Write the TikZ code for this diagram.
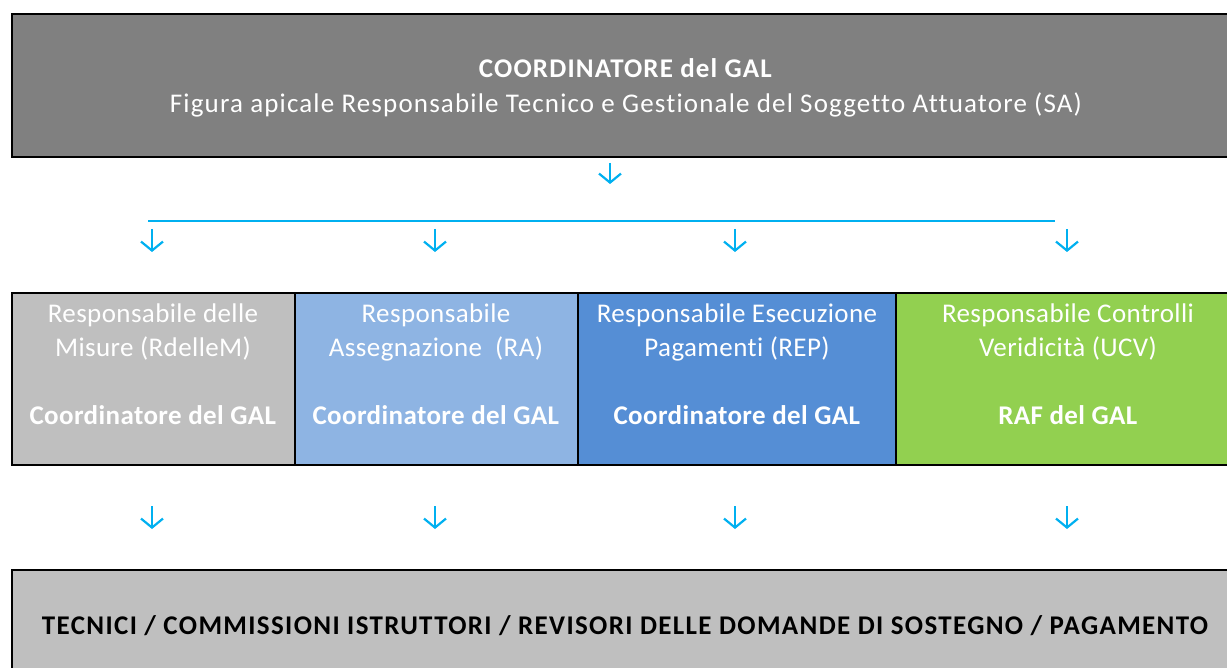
\documentclass[tikz,border=0pt]{standalone}
\usepackage{fontspec}
\setmainfont[Ligatures=NoCommon]{Carlito}
\newfontfamily\widefont[LetterSpace=4.3,Ligatures=NoCommon]{Carlito}
\newfontfamily\botfont[LetterSpace=5,Ligatures=NoCommon]{Carlito}
\newfontfamily\midfont[LetterSpace=1.5,Ligatures=NoCommon]{Carlito}
\usetikzlibrary{arrows.meta}
\definecolor{topgray}{HTML}{808080}
\definecolor{lgray}{HTML}{BFBFBF}
\definecolor{lblue}{HTML}{8EB4E3}
\definecolor{mblue}{HTML}{558ED5}
\definecolor{lgreen}{HTML}{92D050}
\definecolor{arrowblue}{HTML}{00B0F0}
\tikzset{
  box/.style={draw=black, line width=2.5pt, inner sep=0pt, anchor=north west},
  ttext/.style={text=white, align=center, inner sep=0pt, font=\widefont\fontsize{27}{35}\selectfont},
  wtext/.style={text=white, align=center, inner sep=0pt, font=\midfont\fontsize{27}{34}\selectfont},
  darr/.style={draw=arrowblue, line width=2.2pt, -{Straight Barb[length=9pt,width=22pt,line width=2.2pt]}},
}
\begin{document}
\begin{tikzpicture}[x=1pt,y=-1pt]
\useasboundingbox (0,0) rectangle (1227,668);
\clip (0,0) rectangle (1227,668);
% top box
\draw[box, fill=topgray] (12,14) rectangle (1240,157);
\node[ttext] (top) at (626,88) {\textbf{COORDINATORE del GAL}\\Figura apicale Responsabile Tecnico e Gestionale del Soggetto Attuatore (SA)};
% middle boxes
\draw[box, fill=lgray] (12,293) rectangle (295,465);
\draw[box, fill=lblue] (295,293) rectangle (578,465);
\draw[box, fill=mblue] (578,293) rectangle (896,465);
\draw[box, fill=lgreen] (896,293) rectangle (1240,465);
\node[wtext] (m1) at (153,364) {Responsabile delle\\Misure (RdelleM)\\\mbox{}\\\textbf{Coordinatore del GAL}};
\node[wtext] (m2) at (436,364) {Responsabile\\Assegnazione\ \ (RA)\\\mbox{}\\\textbf{Coordinatore del GAL}};
\node[wtext] (m3) at (737,364) {Responsabile Esecuzione\\Pagamenti (REP)\\\mbox{}\\\textbf{Coordinatore del GAL}};
\node[wtext] (m4) at (1068,364) {Responsabile Controlli\\Veridicità (UCV)\\\mbox{}\\\textbf{RAF del GAL}};
% bottom box
\draw[box, fill=lgray] (12,570) rectangle (1240,700);
\node[font=\botfont\fontsize{27}{34}\selectfont\bfseries, text=black] (bot) at (625,626) {TECNICI / COMMISSIONI ISTRUTTORI / REVISORI DELLE DOMANDE DI SOSTEGNO / PAGAMENTO};
% connector coordinates
\coordinate (a0s) at (610,163); \coordinate (a0e) at (610,184);
\draw[darr] (a0s) -- (a0e);
\coordinate (hl) at (148,221); \coordinate (hr) at (1055,221);
\draw[draw=arrowblue, line width=2pt] (hl) -- (hr);
\foreach \x [count=\i] in {152,435,735,1067}{
  \coordinate (u\i s) at (\x,229); \coordinate (u\i e) at (\x,252);
  \draw[darr] (u\i s) -- (u\i e);
  \coordinate (d\i s) at (\x,506); \coordinate (d\i e) at (\x,529);
  \draw[darr] (d\i s) -- (d\i e);
}
\end{tikzpicture}
\end{document}
